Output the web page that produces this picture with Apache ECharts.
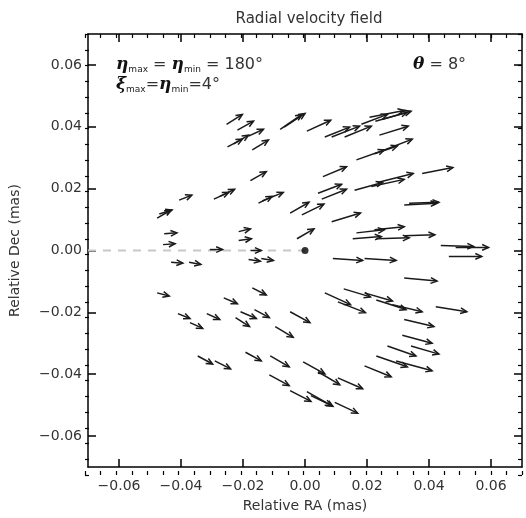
<!DOCTYPE html>
<html>
<head>
<meta charset="utf-8">
<script src="https://cdn.jsdelivr.net/npm/echarts@6/dist/echarts.min.js"></script>
<style>
  html, body { margin: 0; padding: 0; background: #fff; }
  #chart { width: 526px; height: 518px; }
</style>
</head>
<body>
<div id="chart"></div>
<script>
// arrow tails (RA, Dec) and heads (RA, Dec), in mas
const startRA = [
  -0.0253, -0.0218, -0.0250, -0.0230, -0.0182, -0.0170, -0.0080, -0.0067, -0.0176, -0.0294,
  -0.0275, -0.0406, -0.0150, -0.0138, -0.0477, -0.0470, -0.0454, -0.0458, -0.0214, -0.0214,
  -0.0307, -0.0176, -0.0048, -0.0010, -0.0026, 0.0006, 0.0064, 0.0086, 0.0128, 0.0182,
  0.0227, 0.0250, 0.0208, 0.0240, 0.0166, 0.0224, 0.0256, 0.0058, 0.0378, 0.0160,
  0.0214, 0.0234, 0.0042, 0.0054, 0.0086, 0.0320, 0.0336, 0.0166, 0.0224, 0.0154,
  0.0230, 0.0320, 0.0438, 0.0486, 0.0464, 0.0090, 0.0192, 0.0320, 0.0064, 0.0106,
  0.0125, 0.0192, 0.0230, 0.0282, 0.0422, -0.0048, 0.0320, -0.0096, 0.0314, 0.0266,
  0.0342, 0.0230, 0.0294, 0.0192, -0.0006, 0.0042, 0.0106, -0.0048, 0.0006, 0.0019,
  0.0096, -0.0432, -0.0374, -0.0182, -0.0141, -0.0477, -0.0170, -0.0262, -0.0410, -0.0371,
  -0.0317, -0.0208, -0.0163, -0.0224, -0.0346, -0.0291, -0.0192, -0.0112, -0.0115
];
const startDec = [
  0.0408, 0.0389, 0.0335, 0.0345, 0.0370, 0.0325, 0.0392, 0.0399, 0.0226, 0.0166,
  0.0175, 0.0163, 0.0153, 0.0160, 0.0105, 0.0118, 0.0054, 0.0019, 0.0061, 0.0032,
  0.0003, 0.0000, 0.0121, 0.0115, 0.0038, 0.0386, 0.0367, 0.0367, 0.0367, 0.0408,
  0.0418, 0.0424, 0.0431, 0.0373, 0.0293, 0.0313, 0.0325, 0.0239, 0.0249, 0.0195,
  0.0207, 0.0220, 0.0185, 0.0166, 0.0093, 0.0147, 0.0153, 0.0057, 0.0067, 0.0038,
  0.0038, 0.0048, 0.0016, 0.0010, -0.0019, -0.0026, -0.0026, -0.0089, -0.0137, -0.0166,
  -0.0124, -0.0137, -0.0160, -0.0175, -0.0182, -0.0198, -0.0223, -0.0246, -0.0274, -0.0309,
  -0.0309, -0.0341, -0.0357, -0.0373, -0.0360, -0.0392, -0.0412, -0.0453, -0.0456, -0.0469,
  -0.0491, -0.0038, -0.0038, -0.0029, -0.0026, -0.0137, -0.0121, -0.0153, -0.0204, -0.0233,
  -0.0204, -0.0198, -0.0191, -0.0217, -0.0341, -0.0357, -0.0329, -0.0341, -0.0402
];
const endRA = [
  -0.0202, -0.0166, -0.0202, -0.0182, -0.0134, -0.0118, -0.0010, 0.0000, -0.0125, -0.0246,
  -0.0227, -0.0365, -0.0106, -0.0070, -0.0432, -0.0429, -0.0413, -0.0419, -0.0176, -0.0173,
  -0.0266, -0.0141, 0.0013, 0.0061, 0.0029, 0.0083, 0.0144, 0.0176, 0.0214, 0.0266,
  0.0330, 0.0342, 0.0320, 0.0333, 0.0256, 0.0298, 0.0346, 0.0134, 0.0477, 0.0250,
  0.0320, 0.0349, 0.0118, 0.0134, 0.0179, 0.0426, 0.0432, 0.0256, 0.0320, 0.0246,
  0.0336, 0.0419, 0.0544, 0.0592, 0.0570, 0.0186, 0.0294, 0.0426, 0.0147, 0.0195,
  0.0211, 0.0282, 0.0326, 0.0378, 0.0522, 0.0016, 0.0416, -0.0038, 0.0410, 0.0358,
  0.0432, 0.0330, 0.0410, 0.0278, 0.0064, 0.0112, 0.0186, 0.0019, 0.0090, 0.0086,
  0.0170, -0.0394, -0.0336, -0.0144, -0.0102, -0.0438, -0.0125, -0.0218, -0.0371, -0.0330,
  -0.0275, -0.0157, -0.0115, -0.0179, -0.0298, -0.0240, -0.0141, -0.0051, -0.0051
];
const endDec = [
  0.0440, 0.0418, 0.0360, 0.0373, 0.0392, 0.0357, 0.0440, 0.0443, 0.0255, 0.0188,
  0.0198, 0.0179, 0.0175, 0.0188, 0.0131, 0.0131, 0.0057, 0.0022, 0.0070, 0.0038,
  0.0003, 0.0000, 0.0156, 0.0150, 0.0070, 0.0421, 0.0399, 0.0402, 0.0402, 0.0440,
  0.0447, 0.0450, 0.0453, 0.0402, 0.0325, 0.0338, 0.0360, 0.0271, 0.0268, 0.0220,
  0.0230, 0.0249, 0.0214, 0.0198, 0.0121, 0.0153, 0.0156, 0.0067, 0.0077, 0.0045,
  0.0041, 0.0051, 0.0013, 0.0010, -0.0019, -0.0032, -0.0032, -0.0099, -0.0175, -0.0201,
  -0.0150, -0.0163, -0.0191, -0.0198, -0.0198, -0.0233, -0.0246, -0.0281, -0.0300, -0.0341,
  -0.0335, -0.0376, -0.0389, -0.0408, -0.0399, -0.0434, -0.0447, -0.0488, -0.0504, -0.0501,
  -0.0526, -0.0041, -0.0045, -0.0035, -0.0032, -0.0147, -0.0144, -0.0172, -0.0220, -0.0252,
  -0.0223, -0.0220, -0.0217, -0.0246, -0.0367, -0.0383, -0.0357, -0.0376, -0.0437
];

const majorTicks = [-0.06, -0.04, -0.02, 0, 0.02, 0.04, 0.06];
const dashedRef = [[-0.07, 0], [0, 0]];
const originPoint = [[0, 0]];

const FONT = 'DejaVu Sans';
const TEXT = '#333';

const fmt = v => {
  const s = Math.abs(v).toFixed(2);
  return v < -1e-9 ? '\u2212' + s : s;
};

const gridBox = { left: 85, right: 4, top: 34, bottom: 43 };

const majorAxis = (pos, extra) => Object.assign({
  type: 'value', gridIndex: 0, position: pos, min: -0.07, max: 0.07,
  axisLine: { show: true, onZero: false, lineStyle: { color: '#000', width: 1.5 } },
  axisTick: { show: true, inside: true, length: 8, customValues: majorTicks, lineStyle: { color: '#000', width: 1.5 } },
  axisLabel: { show: false },
  splitLine: { show: false }
}, extra);

const minorAxis = (pos) => ({
  type: 'value', gridIndex: 1, position: pos, min: -0.07, max: 0.07, interval: 0.005,
  axisLine: { show: false, onZero: false },
  axisTick: { show: true, inside: true, length: 4, lineStyle: { color: '#000', width: 1.2 } },
  axisLabel: { show: false },
  splitLine: { show: false }
});

const label = {
  show: true, customValues: majorTicks, formatter: fmt,
  color: TEXT, fontFamily: FONT, fontSize: 14
};

const greek = { fontFamily: 'DejaVu Serif', fontStyle: 'italic', fontWeight: 'bold', fontSize: 17, fill: '#111', lineHeight: 20 };
const subText = { fontFamily: FONT, fontSize: 9, fill: '#222', verticalAlign: 'bottom', lineHeight: 20, padding: [8, 0, 0, 0] };
const plainText = { fontFamily: FONT, fontSize: 16, fill: '#333', lineHeight: 20 };

const chart = echarts.init(document.getElementById('chart'));

const option = {
  animation: false,
  backgroundColor: '#fff',
  title: {
    text: 'Radial velocity field',
    left: 304, top: 7, textAlign: 'center',
    textStyle: { fontFamily: FONT, fontSize: 15, fontWeight: 'normal', color: TEXT }
  },
  grid: [Object.assign({}, gridBox), Object.assign({}, gridBox)],
  xAxis: [
    majorAxis('bottom', {
      axisLabel: Object.assign({ margin: 12 }, label),
      name: 'Relative RA (mas)', nameLocation: 'middle', nameGap: 32,
      nameTextStyle: { fontFamily: FONT, fontSize: 14, color: TEXT }
    }),
    majorAxis('top'),
    minorAxis('bottom'),
    minorAxis('top')
  ],
  yAxis: [
    majorAxis('left', {
      axisLabel: Object.assign({ margin: 6 }, label),
      name: 'Relative Dec (mas)', nameLocation: 'middle', nameGap: 66, nameRotate: 90,
      nameTextStyle: { fontFamily: FONT, fontSize: 14, color: TEXT }
    }),
    majorAxis('right'),
    minorAxis('left'),
    minorAxis('right')
  ],
  graphic: [
    {
      type: 'text', left: 116, top: 56,
      style: {
        text: '{g|η}{s|max}{n| = }{g|η}{s|min}{n| = 180°}',
        rich: { g: greek, s: subText, n: plainText }
      }
    },
    {
      type: 'text', left: 116, top: 76,
      style: {
        text: '{g|ξ}{s|max}{n|=}{g|η}{s|min}{n|=4°}',
        rich: { g: greek, s: subText, n: plainText }
      }
    },
    {
      type: 'text', left: 413, top: 56,
      style: {
        text: '{g|θ}{n| = 8°}',
        rich: { g: greek, n: plainText }
      }
    }
  ],
  series: [
    {
      type: 'line',
      xAxisIndex: 0, yAxisIndex: 0,
      data: dashedRef,
      symbol: 'none',
      silent: true,
      lineStyle: { color: '#c8c8c8', width: 2, type: [8, 7] },
      z: 1
    },
    {
      type: 'scatter',
      xAxisIndex: 0, yAxisIndex: 0,
      data: originPoint,
      symbolSize: 7,
      itemStyle: { color: '#000' },
      z: 3
    },
    {
      type: 'custom',
      xAxisIndex: 0, yAxisIndex: 0,
      clip: true,
      data: startRA.map((x, i) => [x, startDec[i], endRA[i], endDec[i]]),
      encode: { x: [0, 2], y: [1, 3] },
      renderItem: function (params, api) {
        const p0 = api.coord([api.value(0), api.value(1)]);
        const p1 = api.coord([api.value(2), api.value(3)]);
        const ang = Math.atan2(p1[1] - p0[1], p1[0] - p0[0]);
        const h = 7, a = 0.42;
        const l = [p1[0] - h * Math.cos(ang - a), p1[1] - h * Math.sin(ang - a)];
        const r = [p1[0] - h * Math.cos(ang + a), p1[1] - h * Math.sin(ang + a)];
        const st = { stroke: '#1a1a1a', lineWidth: 1.5, fill: null, lineJoin: 'miter' };
        return {
          type: 'group',
          children: [
            { type: 'line', shape: { x1: p0[0], y1: p0[1], x2: p1[0], y2: p1[1] }, style: st },
            { type: 'polyline', shape: { points: [l, p1, r] }, style: st }
          ]
        };
      },
      z: 2
    }
  ]
};

chart.setOption(option);
</script>
</body>
</html>
